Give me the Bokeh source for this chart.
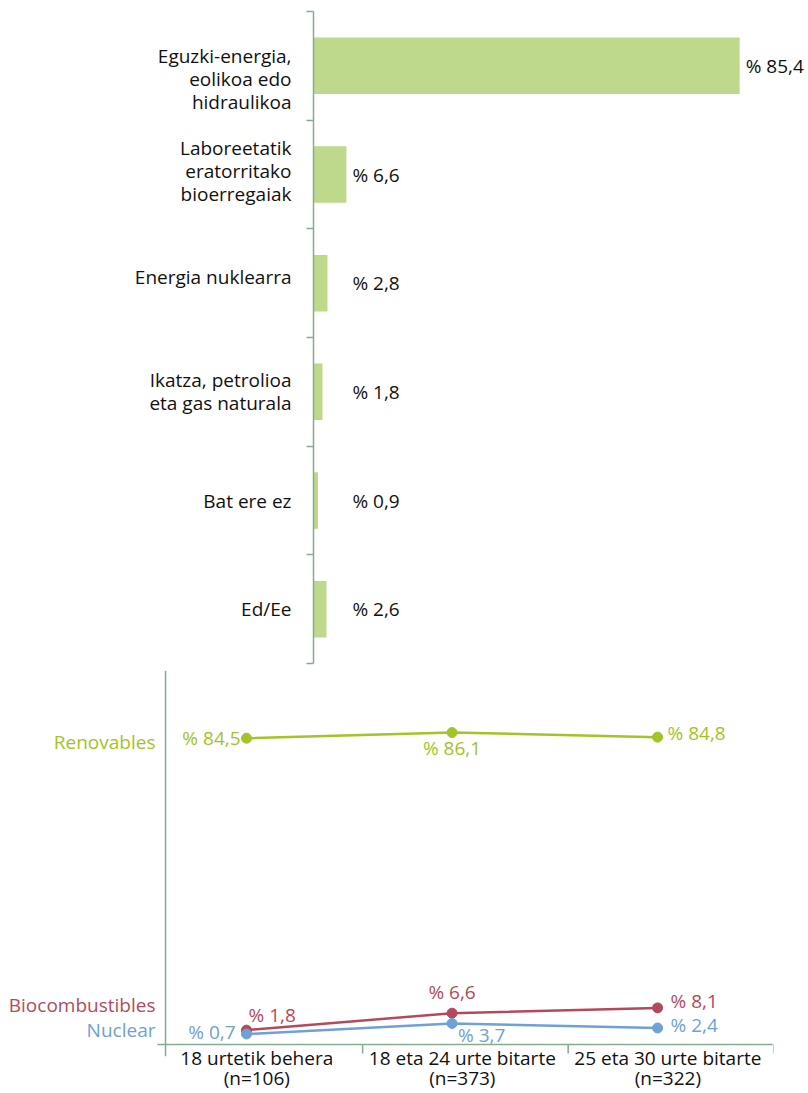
from bokeh.plotting import figure
from bokeh.models import Range1d, FixedTicker, Span
from bokeh.embed import file_html
from bokeh.resources import INLINE
from bokeh.core.properties import value

# ---------------- data ----------------
categories = [
    "Eguzki-energia,\neolikoa edo\nhidraulikoa",
    "Laboreetatik\neratorritako\nbioerregaiak",
    "Energia nuklearra",
    "Ikatza, petrolioa\neta gas naturala",
    "Bat ere ez",
    "Ed/Ee",
]
shares = [85.4, 6.6, 2.8, 1.8, 0.9, 2.6]

groups = [
    "18 urtetik behera\n(n=106)",
    "18 eta 24 urte bitarte\n(n=373)",
    "25 eta 30 urte bitarte\n(n=322)",
]
series_names = ["Renovables", "Biocombustibles", "Nuclear"]
renovables = [84.5, 86.1, 84.8]
biocombustibles = [1.8, 6.6, 8.1]
nuclear = [0.7, 3.7, 2.4]

# ---------------- styles ----------------
FONT = "Open Sans"
FS = "19px"
AX = "#86ab8e"
BAR = "#bed98b"
COLORS = ["#a2c424", "#b34a5b", "#6ea1d6"]


def fmt(v):
    return "% " + f"{v:.1f}".replace(".", ",")


# ---------------- top chart ----------------
n = len(categories)
ys = [i + 0.5 for i in range(n)]
label_shift = [0.12, -0.035, -0.06, 0.0, 0.0, 0.0]   # vertical nudges of the category labels
p1 = figure(width=808, height=668, x_range=Range1d(0, 99.2), y_range=Range1d(n, 0),
            output_backend="svg", toolbar_location=None,
            min_border_left=313, min_border_right=0, min_border_top=11, min_border_bottom=5)
p1.outline_line_color = None
p1.grid.visible = False
p1.xaxis.visible = False
p1.hbar(y=ys, left=0, right=shares, height=0.52, fill_color=BAR, line_color=None)

LABEL_MIN = 6.6
label_x = [max(v, LABEL_MIN) for v in shares]
p1.text(x=label_x, y=ys, text=[fmt(v) for v in shares], x_offset=6,
        text_font=value(FONT), text_font_size=FS, text_font_style="normal",
        text_color="#111111", text_baseline="middle", text_align="left")

yax = p1.yaxis[0]
tick_pos = [y + s for y, s in zip(ys, label_shift)]
yax.ticker = FixedTicker(ticks=tick_pos, minor_ticks=list(range(n + 1)))
yax.major_label_overrides = {t: c for t, c in zip(tick_pos, categories)}
yax.major_tick_line_color = None
yax.major_tick_out = 0
yax.major_tick_in = 0
yax.minor_tick_out = 7
yax.minor_tick_in = 0
yax.minor_tick_line_color = AX
yax.minor_tick_line_width = 1.5
yax.axis_line_color = AX
yax.axis_line_width = 1.5
yax.major_label_standoff = 15
yax.major_label_text_font = FONT
yax.major_label_text_font_size = FS
yax.major_label_text_color = "#111111"
yax.major_label_text_line_height = 0.89

# ---------------- bottom chart ----------------
m = len(groups)
xs = list(range(m))
p2 = figure(width=808, height=425, x_range=Range1d(-1.197, 2.564), y_range=Range1d(-5.67, 103.68),
            output_backend="svg", toolbar_location=None,
            min_border_left=0, min_border_right=35, min_border_top=2, min_border_bottom=0)
p2.outline_line_color = None
p2.grid.visible = False
p2.yaxis.visible = False

xax = p2.xaxis[0]
xax.ticker = FixedTicker(ticks=[x + 0.05 for x in xs])
xax.major_label_overrides = {x + 0.05: g for x, g in zip(xs, groups)}
xax.axis_line_color = None
xax.major_tick_line_color = None
xax.major_tick_out = 0
xax.major_tick_in = 0
xax.major_label_standoff = -12
xax.major_label_text_font = FONT
xax.major_label_text_font_size = FS
xax.major_label_text_color = "#111111"
xax.major_label_text_line_height = 0.77

AXIS_Y = -2.27
TICK_Y = -4.82
AXIS_X = -0.394
AXIS_X0 = -0.433
p2.segment(x0=[AXIS_X0], x1=[2.56], y0=[AXIS_Y], y1=[AXIS_Y], line_color=AX, line_width=1.5)
p2.add_layout(Span(location=AXIS_X, dimension="height", line_color=AX, line_width=1.5))
bounds = [x + 0.565 for x in xs]
p2.segment(x0=bounds, x1=bounds, y0=[AXIS_Y] * m, y1=[TICK_Y] * m, line_color=AX, line_width=1.5)

all_series = [renovables, biocombustibles, nuclear]
# label offsets (px) per point: (dx, up, align)
offsets = [
    [(-6, 0, "right"), (0, -15, "center"), (10, 4, "left")],
    [(2, 15, "left"), (0, 21, "center"), (13, 7, "left")],
    [(-11, 2, "right"), (6, -12, "left"), (13, 3, "left")],
]
for vals, col, offs in zip(all_series, COLORS, offsets):
    p2.line(xs, vals, line_color=col, line_width=2.5)
    p2.scatter(xs, vals, size=10, fill_color=col, line_color=col)
    for x, v, (dx, up, al) in zip(xs, vals, offs):
        p2.text(x=[x], y=[v], text=[fmt(v)], x_offset=dx, y_offset=-up,
                text_font=value(FONT), text_font_size=FS, text_color=col,
                text_baseline="middle", text_align=al)

name_y = [83.4, 8.8, 1.7]
p2.text(x=[AXIS_X0 - 0.01] * len(series_names), y=name_y, text=series_names, text_color=COLORS,
        text_font=value(FONT), text_font_size=FS, text_align="right", text_baseline="middle")

open("out.html", "w").write(file_html([p1, p2], INLINE))
